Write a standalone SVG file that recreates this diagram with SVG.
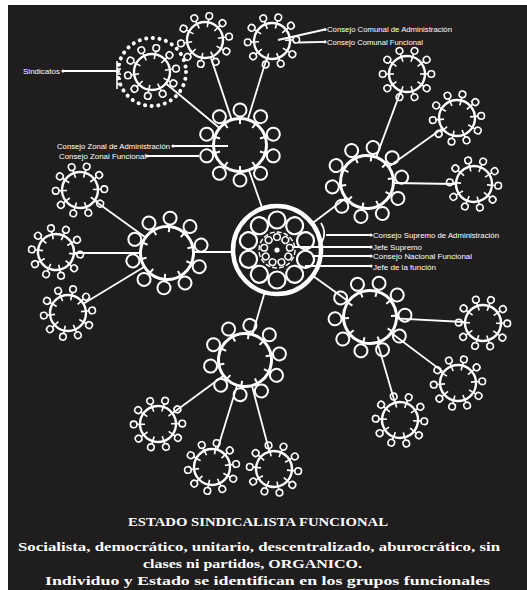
<svg xmlns="http://www.w3.org/2000/svg" width="527" height="590" viewBox="0 0 527 590">
<style>
.w{fill:none;stroke:#fff}
.ln{stroke:#fff;stroke-width:1.8;fill:none}
.lbl{font-family:"Liberation Sans",Arial,sans-serif;font-size:7.5px;fill:#fff}
.cap{font-family:"Liberation Serif","Times New Roman",serif;font-weight:bold;fill:#fff}
.dot{fill:#fff}
</style>
<defs>
<g id="lolS"><line x1="0" y1="-13" x2="0" y2="-21"/><circle cx="0" cy="-24.3" r="3.3"/></g>
<g id="com" class="w">
<circle r="18" stroke-width="2.4"/>
<g stroke-width="1.6">
<use href="#lolS" transform="rotate(10)"/><use href="#lolS" transform="rotate(46)"/><use href="#lolS" transform="rotate(82)"/><use href="#lolS" transform="rotate(118)"/><use href="#lolS" transform="rotate(154)"/><use href="#lolS" transform="rotate(190)"/><use href="#lolS" transform="rotate(226)"/><use href="#lolS" transform="rotate(262)"/><use href="#lolS" transform="rotate(298)"/><use href="#lolS" transform="rotate(334)"/>
</g>
</g>
<g id="lolZ"><line x1="0" y1="-21" x2="0" y2="-28.5"/><circle cx="0" cy="-35" r="6.5"/></g>
<g id="zon" class="w">
<circle r="26.5" stroke-width="3"/>
<g stroke-width="2">
<use href="#lolZ" transform="rotate(0)"/><use href="#lolZ" transform="rotate(36)"/><use href="#lolZ" transform="rotate(72)"/><use href="#lolZ" transform="rotate(108)"/><use href="#lolZ" transform="rotate(144)"/><use href="#lolZ" transform="rotate(180)"/><use href="#lolZ" transform="rotate(216)"/><use href="#lolZ" transform="rotate(252)"/><use href="#lolZ" transform="rotate(288)"/><use href="#lolZ" transform="rotate(324)"/>
</g>
</g>
<circle id="cbig" cx="0" cy="-30" r="8.5"/>
<circle id="csm" cx="0" cy="-13" r="3.3"/>
</defs>

<rect width="527" height="590" fill="#fff"/>
<rect x="8" y="5" width="519" height="585" fill="#1f1d1e"/>

<g id="connectors">
<line class="ln" x1="262.4" y1="208.5" x2="249" y2="170.5"/>
<line class="ln" x1="312" y1="223.5" x2="346.3" y2="197.7"/>
<line class="ln" x1="233" y1="252" x2="193" y2="252"/>
<line class="ln" x1="312.7" y1="275.7" x2="349" y2="301.8"/>
<line class="ln" x1="264.7" y1="292.2" x2="252.5" y2="334"/>
<line class="ln" x1="219.2" y1="127.7" x2="165.9" y2="83.5"/>
<line class="ln" x1="231.5" y1="119.4" x2="210.7" y2="57.1"/>
<line class="ln" x1="247.9" y1="119.2" x2="266.7" y2="58.2"/>
<line class="ln" x1="376" y1="157.6" x2="400.8" y2="90.9"/>
<line class="ln" x1="388.2" y1="166.9" x2="442.3" y2="128.4"/>
<line class="ln" x1="393" y1="183" x2="456" y2="184"/>
<line class="ln" x1="145.9" y1="237.7" x2="95.4" y2="201.2"/>
<line class="ln" x1="141" y1="253" x2="75" y2="253"/>
<line class="ln" x1="144.8" y1="266.5" x2="84.2" y2="303.2"/>
<line class="ln" x1="395" y1="318.3" x2="464" y2="322"/>
<line class="ln" x1="390" y1="332" x2="442.8" y2="371.6"/>
<line class="ln" x1="377" y1="341" x2="395" y2="402.7"/>
<line class="ln" x1="223.2" y1="376" x2="172.5" y2="413.3"/>
<line class="ln" x1="237" y1="385.8" x2="217.3" y2="449.8"/>
<line class="ln" x1="252" y1="386" x2="269.4" y2="451.6"/>
<!-- label leaders -->
<line class="ln" stroke-width="1.4" x1="278" y1="40" x2="325" y2="29.5"/>
<line class="ln" stroke-width="1.4" x1="299" y1="42.5" x2="325" y2="41.8"/>
<line class="ln" stroke-width="1.4" x1="63" y1="71" x2="116" y2="71"/>
<line class="ln" stroke-width="1.4" x1="173" y1="146" x2="228" y2="146"/>
<line class="ln" stroke-width="1.4" x1="147" y1="156" x2="199" y2="156"/>
<path class="ln" stroke-width="2" d="M321,223 Q327,232 322,242"/>
<line class="ln" stroke-width="1.4" x1="326" y1="235" x2="371" y2="235"/>
<line class="ln" stroke-width="1.4" x1="292" y1="247" x2="371" y2="247"/>
<line class="ln" stroke-width="1.4" x1="312" y1="256" x2="371" y2="256"/>
<line class="ln" stroke-width="1.4" x1="305" y1="266" x2="371" y2="266"/>
<circle class="dot" cx="325" cy="29.5" r="1.6"/>
<circle class="dot" cx="325" cy="41.8" r="1.6"/>
<circle class="dot" cx="63" cy="71" r="1.6"/>
<circle class="dot" cx="173" cy="146" r="1.6"/>
<circle class="dot" cx="147" cy="156" r="1.6"/>
<circle class="dot" cx="371" cy="235" r="1.6"/>
<circle class="dot" cx="371" cy="247" r="1.6"/>
<circle class="dot" cx="371" cy="256" r="1.6"/>
<circle class="dot" cx="371" cy="266" r="1.6"/>
</g>

<g id="central" class="w" transform="translate(277,250)">
<circle r="44" stroke-width="4.5"/>
<g stroke-width="2.2">
<use href="#cbig" transform="rotate(0)"/><use href="#cbig" transform="rotate(36)"/><use href="#cbig" transform="rotate(72)"/><use href="#cbig" transform="rotate(108)"/><use href="#cbig" transform="rotate(144)"/><use href="#cbig" transform="rotate(180)"/><use href="#cbig" transform="rotate(216)"/><use href="#cbig" transform="rotate(252)"/><use href="#cbig" transform="rotate(288)"/><use href="#cbig" transform="rotate(324)"/>
</g>
<circle r="18" stroke-width="1.4" stroke-dasharray="5 2"/>
<g stroke-width="1.5">
<use href="#csm" transform="rotate(0)"/><use href="#csm" transform="rotate(40)"/><use href="#csm" transform="rotate(80)"/><use href="#csm" transform="rotate(120)"/><use href="#csm" transform="rotate(160)"/><use href="#csm" transform="rotate(200)"/><use href="#csm" transform="rotate(240)"/><use href="#csm" transform="rotate(280)"/><use href="#csm" transform="rotate(320)"/>
</g>
<circle r="2.6" fill="#fff" stroke="none"/>
</g>

<g id="zonal-top"><use href="#zon" transform="translate(240,145)"/></g>
<g id="zonal-right-top"><use href="#zon" transform="translate(367,182) rotate(10)"/></g>
<g id="zonal-left"><use href="#zon" transform="translate(167,253) rotate(5)"/></g>
<g id="zonal-right-bottom"><use href="#zon" transform="translate(370,317) rotate(15)"/></g>
<g id="zonal-bottom"><use href="#zon" transform="translate(245,360) rotate(8)"/></g>

<g id="sindicatos">
<use href="#com" transform="translate(152,72)"/>
<circle class="w" cx="152" cy="72" r="34" stroke-width="4" stroke-dasharray="0.1 6.6" stroke-linecap="round"/>
<g class="w" stroke-width="1.6">
<line x1="117" y1="61" x2="117" y2="89"/>
<line x1="117" y1="64" x2="121" y2="64"/><line x1="117" y1="69" x2="121" y2="69"/><line x1="117" y1="74" x2="121" y2="74"/><line x1="117" y1="79" x2="121" y2="79"/><line x1="117" y1="84" x2="121" y2="84"/>
</g>
</g>
<g id="comunal-top-left"><use href="#com" transform="translate(205,40)"/></g>
<g id="comunal-top-right"><use href="#com" transform="translate(272,41) rotate(5)"/></g>
<g id="comunal-rt-1"><use href="#com" transform="translate(407,74) rotate(8)"/></g>
<g id="comunal-rt-2"><use href="#com" transform="translate(457,118) rotate(3)"/></g>
<g id="comunal-rt-3"><use href="#com" transform="translate(474,184) rotate(12)"/></g>
<g id="comunal-l-1"><use href="#com" transform="translate(80,190) rotate(6)"/></g>
<g id="comunal-l-2"><use href="#com" transform="translate(56,252) rotate(14)"/></g>
<g id="comunal-l-3"><use href="#com" transform="translate(68,313) rotate(2)"/></g>
<g id="comunal-rb-1"><use href="#com" transform="translate(483,323) rotate(9)"/></g>
<g id="comunal-rb-2"><use href="#com" transform="translate(458,383) rotate(4)"/></g>
<g id="comunal-rb-3"><use href="#com" transform="translate(400,420) rotate(11)"/></g>
<g id="comunal-b-1"><use href="#com" transform="translate(158,424) rotate(7)"/></g>
<g id="comunal-b-2"><use href="#com" transform="translate(212,467) rotate(1)"/></g>
<g id="comunal-b-3"><use href="#com" transform="translate(274,469) rotate(13)"/></g>

<g id="labels">
<text class="lbl" x="327" y="32" textLength="125" lengthAdjust="spacingAndGlyphs">Consejo Comunal de Administración</text>
<text class="lbl" x="327" y="44.5" textLength="96" lengthAdjust="spacingAndGlyphs">Consejo Comunal Funcional</text>
<text class="lbl" x="23" y="74" textLength="37" lengthAdjust="spacingAndGlyphs">Sindicatos</text>
<text class="lbl" x="57" y="149" textLength="113" lengthAdjust="spacingAndGlyphs">Consejo Zonal de Administración</text>
<text class="lbl" x="59" y="159" textLength="87" lengthAdjust="spacingAndGlyphs">Consejo Zonal Funcional</text>
<text class="lbl" x="373" y="237.5" textLength="126" lengthAdjust="spacingAndGlyphs">Consejo Supremo de Administración</text>
<text class="lbl" x="373" y="250" textLength="49" lengthAdjust="spacingAndGlyphs">Jefe Supremo</text>
<text class="lbl" x="373" y="259" textLength="99" lengthAdjust="spacingAndGlyphs">Consejo Nacional Funcional</text>
<text class="lbl" x="373" y="269.5" textLength="63" lengthAdjust="spacingAndGlyphs">Jefe de la función</text>
</g>

<g id="caption">
<text class="cap" x="128" y="525.5" font-size="12.5" textLength="260" lengthAdjust="spacingAndGlyphs">ESTADO SINDICALISTA FUNCIONAL</text>
<text class="cap" x="18" y="551" font-size="13" textLength="482" lengthAdjust="spacingAndGlyphs">Socialista, democrático, unitario, descentralizado, aburocrático, sin</text>
<text class="cap" x="143" y="568" font-size="13" textLength="219" lengthAdjust="spacingAndGlyphs">clases ni partidos, ORGANICO.</text>
<text class="cap" x="45" y="585" font-size="13" textLength="445" lengthAdjust="spacingAndGlyphs">Individuo y Estado se identifican en los grupos  funcionales</text>
</g>
</svg>
